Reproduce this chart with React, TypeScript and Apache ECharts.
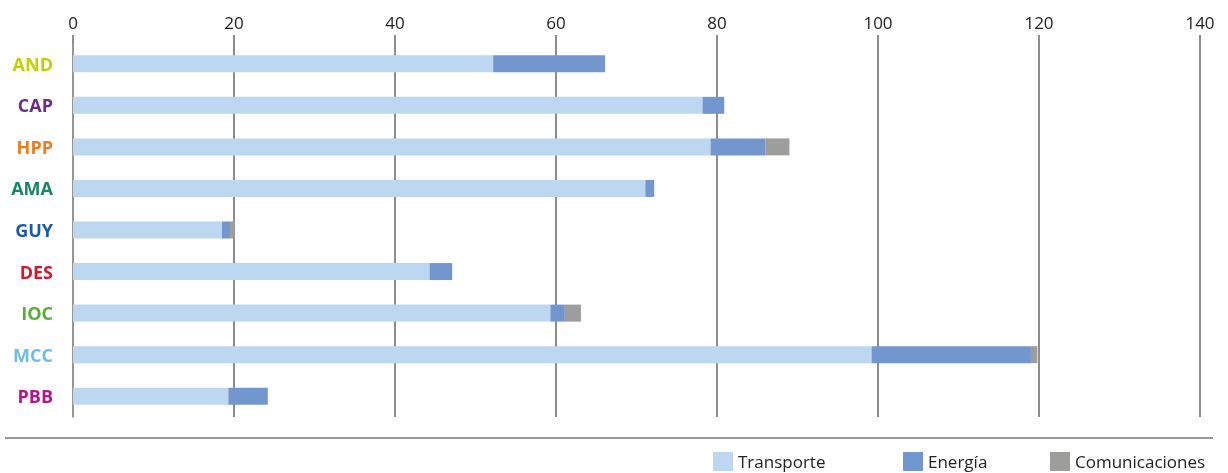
import React, { useEffect, useRef } from "react";
import * as echarts from "echarts";

const categories = ["AND", "CAP", "HPP", "AMA", "GUY", "DES", "IOC", "MCC", "PBB"];
const categoryColors = ["#c2d000", "#6b2c8c", "#f07b1c", "#17885f", "#1b5aa6", "#d4162f", "#58ae33", "#6cbde9", "#b3178a"];
const transporte = [52.2, 78.2, 79.2, 71.1, 18.5, 44.3, 59.3, 99.2, 19.3];
const energia = [13.9, 2.7, 6.8, 1.1, 1.0, 2.8, 1.8, 19.8, 4.9];
const comunicaciones = [0, 0, 3.0, 0, 0.6, 0, 2.0, 0.8, 0];
const xTicks = { min: 0, max: 140, interval: 20 };
const seriesNames = ["Transporte", "Energía", "Comunicaciones"];
const seriesColors = ["#bdd7f0", "#7297cf", "#9d9d9c"];

export default function App() {
  const ref = useRef<HTMLDivElement>(null);
  useEffect(() => {
    if (!ref.current) return;
    const chart = echarts.init(ref.current, undefined, { renderer: "svg" });
    const font = "'Open Sans', 'Noto Sans', sans-serif";
    const dataSets = [transporte, energia, comunicaciones];
    const legendLefts = [713, 903, 1050];
    chart.setOption({
      animation: false,
      textStyle: { fontFamily: font },
      grid: { left: 73, right: 28, top: 43, height: 374, containLabel: false },
      xAxis: {
        type: "value",
        position: "top",
        min: xTicks.min,
        max: xTicks.max,
        interval: xTicks.interval,
        axisLine: { show: false },
        axisTick: { show: true, length: 8, lineStyle: { color: "#666", width: 1.5 } },
        axisLabel: { color: "#222", fontSize: 17, margin: 12, fontFamily: font },
        splitLine: { show: true, lineStyle: { color: "#666", width: 1.5 } },
      },
      yAxis: {
        type: "category",
        inverse: true,
        data: categories.map((c, i) => ({ value: c, textStyle: { color: categoryColors[i] } })),
        axisLine: { show: true, lineStyle: { color: "#999", width: 1.5 } },
        axisTick: { show: false },
        axisLabel: { fontSize: 18, fontWeight: "bold", margin: 20, fontFamily: font },
      },
      legend: seriesNames.map((name, i) => ({
        top: 452,
        left: legendLefts[i],
        itemWidth: 20,
        itemHeight: 19,
        itemGap: 0,
        padding: 0,
        icon: "rect",
        textStyle: { fontSize: 17, lineHeight: 18, color: "#222", fontFamily: font },
        data: [name],
      })),
      graphic: [
        {
          type: "line",
          shape: { x1: 5, y1: 438, x2: 1213, y2: 438 },
          style: { stroke: "#333", lineWidth: 1 },
        },
      ],
      series: seriesNames.map((name, i) => ({
        name,
        type: "bar",
        stack: "total",
        barWidth: 17,
        itemStyle: { color: seriesColors[i] },
        data: dataSets[i],
      })),
    });
    return () => chart.dispose();
  }, []);
  return <div ref={ref} style={{ position: "fixed", left: 0, top: 0, width: 1228, height: 473 }} />;
}
